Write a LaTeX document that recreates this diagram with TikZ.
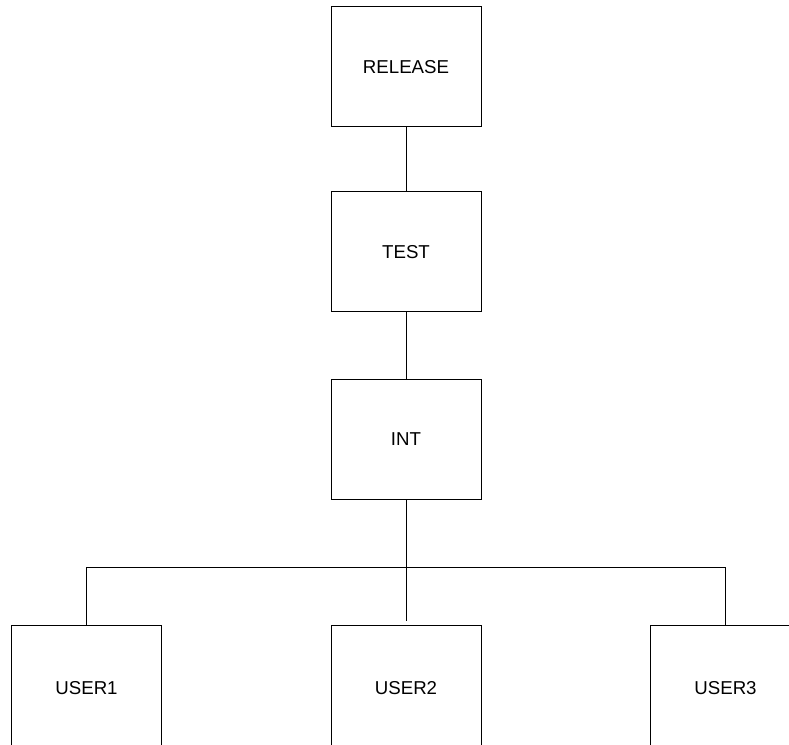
\documentclass[tikz,border=0pt]{standalone}
\usepackage{fontspec}
\setmainfont{Liberation Sans}

\tikzset{
  stage/.style={draw,line width=.75pt,minimum width=150*.75pt,minimum height=120*.75pt,
    inner sep=0pt,font=\fontsize{14}{16}\selectfont},
  user/.style={stage,minimum height=126*.75pt},
  link/.style={draw,line width=.75pt}
}

\begin{document}
\begin{tikzpicture}[x=.75pt,y=-.75pt]
  \clip (0,0) rectangle (789,745);
  \begin{scope}
    \node[stage] (release) at (406,67) {RELEASE};
    \node[stage] (test) at (406,252) {TEST};
    \node[stage] (int) at (406,439) {INT};

    \path[link] (release) -- (test);
    \path[link] (test) -- (int);

    \node[user] (user1) at (86.5,688) {USER1};
    \node[user] (user2) at (406,688) {USER2};
    \node[user] (user3) at (725.5,688) {USER3};

    \coordinate (bus) at (406,567);

    \path[link,shorten >=3pt] (int) -- (user2);
    \path[link] (user1.north) -- (user1.north |- bus) -- (user3.north |- bus) -- (user3.north);
  \end{scope}
\end{tikzpicture}
\end{document}
